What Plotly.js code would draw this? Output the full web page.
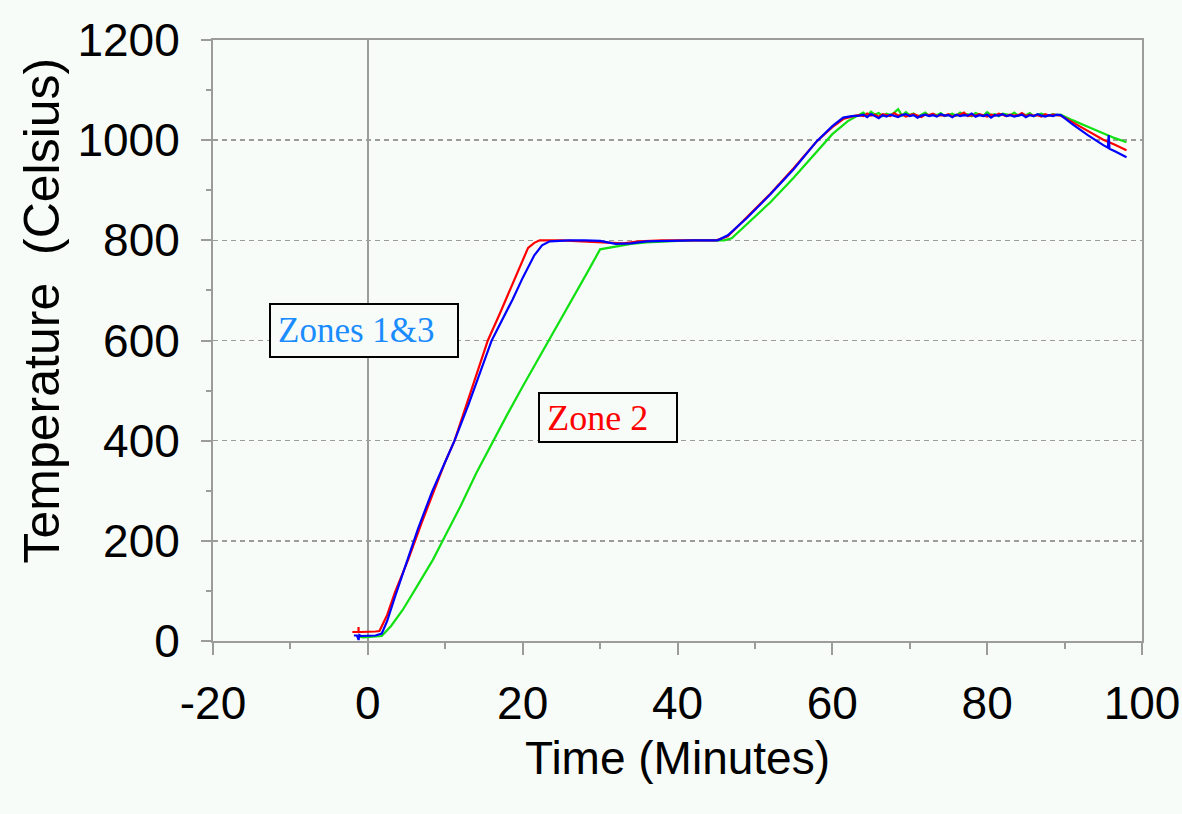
<!DOCTYPE html>
<html>
<head>
<meta charset="utf-8">
<script src="https://cdn.plot.ly/plotly-3.0.1.min.js"></script>
<style>html,body{margin:0;padding:0;background:#f7fcf9;}</style>
</head>
<body>
<div id="chart" style="width:1182px;height:814px;"></div>
<script>
// ---- Data (time in minutes, temperature in Celsius) ----
const greenTime = [-1.4,-1.2,-0.6,0,1,1.8,3,4.5,6,8.4,10,12,14,16.2,18,20,22,23.5,25,26.5,28.5,30,31,32,34,36,38,40,42,45,46,47,49,52,55,58,60,62,
  63.5,64,64.5,65,65.5,66,66.5,67,67.5,68,68.5,69,69.5,70,70.5,71,71.5,72,72.5,73,73.5,74,74.5,75,75.5,76,76.5,77,77.5,78,78.5,79,79.5,80,80.5,81,81.5,82,82.5,83,83.5,84,84.5,85,85.5,86,86.5,87,87.5,88,88.5,89,89.5,
  91,93,95,96.5,98];
const greenTemp = [8,9,7,8,9,10,30,62,100,162,210,270,335,400,452,508,562,602,645,685,740,782,785,788,793,796,798,799,800,800,800,804,832,876,925,978,1012,1038,
  1052,1055,1049,1057,1051,1054,1048,1053,1050,1055,1062,1049,1056,1050,1053,1047,1051,1055,1049,1052,1050,1054,1048,1051,1053,1049,1055,1050,1052,1048,1054,1051,1049,1056,1050,1052,1048,1053,1051,1050,1055,1049,1052,1050,1054,1048,1051,1053,1050,1049,1052,1050,1051,
  1040,1027,1013,1004,996];

const redTime = [-2,-1.5,-1.2,-1.2,-1.2,-0.9,0,1,1.5,2.5,3.5,5.2,7,8.5,10,11.2,13,15.5,17,18,19.5,20.7,21.5,22.2,25,28,31,33,35,38,42,45,46.5,49,52,55,58,60,61.5,63,
  63.5,64,64.5,65,65.5,66,66.5,67,67.5,68,68.5,69,69.5,70,70.5,71,71.5,72,72.5,73,73.5,74,74.5,75,75.5,76,76.5,77,77.5,78,78.5,79,79.5,80,80.5,81,81.5,82,82.5,83,83.5,84,84.5,85,85.5,86,86.5,87,87.5,88,88.5,89,89.5,
  91,93,95,96.5,98];
const redTemp = [18,18,18,28,18,18,18,19,20,52,97,162,238,300,358,400,482,600,652,688,745,785,795,800,800,798,795,794,798,800,800,800,808,846,893,944,998,1026,1043,1049,
  1050,1048,1053,1049,1051,1047,1052,1050,1048,1054,1049,1051,1047,1050,1052,1049,1046,1051,1050,1053,1048,1050,1049,1052,1047,1050,1051,1055,1048,1050,1049,1052,1050,1047,1051,1049,1053,1050,1048,1051,1049,1050,1054,1048,1051,1049,1050,1047,1052,1049,1051,1050,1049,
  1036,1018,1001,991,980];

const blueTime = [-1.8,-1.4,-1.2,-1.1,-0.9,0,1,1.8,2.5,3.5,5,6.5,8.3,10,11.2,13,16,18.7,20,21.5,22.5,23.5,26,28,30,32,34,36,38,40,42,44,45.2,46.5,49,52,55,58,60,61.4,62.5,
  63.5,64,64.5,65,65.5,66,66.5,67,67.5,68,68.5,69,69.5,70,70.5,71,71.5,72,72.5,73,73.5,74,74.5,75,75.5,76,76.5,77,77.5,78,78.5,79,79.5,80,80.5,81,81.5,82,82.5,83,83.5,84,84.5,85,85.5,86,86.5,87,87.5,88,88.5,89,89.5,
  91,93,95,95.6,95.7,95.8,96.5,98];
const blueTemp = [11,11,2,12,10,10,11,15,40,88,158,225,298,360,400,472,600,682,725,770,790,798,800,800,799,793,794,798,799,800,800,800,800,810,845,892,942,998,1028,1045,1048,
  1049,1051,1046,1052,1048,1044,1050,1047,1051,1049,1046,1050,1052,1048,1050,1045,1049,1051,1048,1050,1047,1052,1049,1050,1046,1051,1048,1050,1049,1053,1047,1050,1048,1051,1045,1050,1049,1052,1048,1050,1047,1049,1051,1046,1050,1048,1052,1049,1047,1050,1048,1051,1050,
  1032,1010,990,985,1010,983,978,966];

const xTickVals = [-20,0,20,40,60,80,100];
const yTickVals = [0,200,400,600,800,1000,1200];

const bg = '#f7fcf9';
const axisGray = '#9c9c9c';
const tickFont = {family: '"Liberation Sans", Arial, sans-serif', size: 46, color: '#000'};
const yTitleFont = {family: '"Liberation Sans", Arial, sans-serif', size: 50, color: '#000'};
const serif = '"Liberation Serif", "Times New Roman", serif';

const traces = [
  {x: greenTime, y: greenTemp, mode: 'lines', line: {color: '#11e011', width: 2.2}, name: 'Zone 2', showlegend: false, hoverinfo: 'x+y'},
  {x: redTime, y: redTemp, mode: 'lines', line: {color: '#ff0000', width: 2.2}, name: 'Red', showlegend: false, hoverinfo: 'x+y'},
  {x: blueTime, y: blueTemp, mode: 'lines', line: {color: '#0000ff', width: 2.2}, name: 'Blue', showlegend: false, hoverinfo: 'x+y'}
];

const layout = {
  width: 1182, height: 814,
  paper_bgcolor: bg, plot_bgcolor: bg,
  margin: {l: 213, r: 40, t: 40, b: 173},
  showlegend: false,
  xaxis: {
    range: [-20, 100], tickvals: xTickVals, ticktext: xTickVals.map(String),
    ticks: 'outside', ticklen: 12, tickwidth: 2, tickcolor: axisGray,
    minor: {dtick: 10, tick0: -10, ticks: 'outside', ticklen: 6, tickwidth: 2, tickcolor: axisGray, showgrid: false},
    showline: true, linecolor: axisGray, linewidth: 2, mirror: true,
    showgrid: false, zeroline: true, zerolinecolor: axisGray, zerolinewidth: 1.5,
    tickfont: tickFont, ticklabelstandoff: 9,
    title: {text: 'Time (Minutes)', font: tickFont, standoff: 14}
  },
  yaxis: {
    range: [0, 1200], tickvals: yTickVals, ticktext: yTickVals.map(String),
    ticks: 'outside', ticklen: 10, tickwidth: 2, tickcolor: axisGray,
    minor: {dtick: 200, tick0: 100, ticks: 'outside', ticklen: 5, tickwidth: 2, tickcolor: axisGray, showgrid: false},
    showline: true, linecolor: axisGray, linewidth: 2, mirror: true,
    showgrid: true, gridcolor: axisGray, gridwidth: 1.5, griddash: '5px,4px',
    zeroline: false,
    tickfont: tickFont, ticklabelstandoff: 12
  },
  xaxis2: {
    overlaying: 'x', anchor: 'y2', range: [-20, 100], tickvals: xTickVals,
    ticks: 'inside', ticklen: 9, tickwidth: 2, tickcolor: axisGray,
    minor: {dtick: 10, tick0: -10, ticks: 'inside', ticklen: 6, tickwidth: 2, tickcolor: axisGray, showgrid: false},
    showticklabels: false, showgrid: false, zeroline: false, showline: false
  },
  yaxis2: {
    overlaying: 'y', anchor: 'x2', range: [0, 1200], tickvals: yTickVals,
    ticks: 'inside', ticklen: 3, tickwidth: 2, tickcolor: axisGray,
    minor: {dtick: 200, tick0: 100, ticks: 'inside', ticklen: 5, tickwidth: 2, tickcolor: axisGray, showgrid: false},
    showticklabels: false, showgrid: false, zeroline: false, showline: false
  },
  annotations: [
    {x: 0, y: 0.55, xref: 'paper', yref: 'paper', xshift: -171, text: 'Temperature \u00a0(Celsius)',
     textangle: -90, showarrow: false, font: yTitleFont, xanchor: 'center', yanchor: 'middle'},
    {x: -0.5, y: 619, xref: 'x', yref: 'y', text: '\u2009Zones 1&amp;3', showarrow: false,
     font: {family: serif, size: 35, color: '#1a8cff'},
     bgcolor: bg, bordercolor: '#000', borderwidth: 2, borderpad: 0,
     width: 186, height: 51, align: 'left', valign: 'middle'},
    {x: 31, y: 447, xref: 'x', yref: 'y', text: '\u2009Zone 2', showarrow: false,
     font: {family: serif, size: 36, color: '#ff0000'},
     bgcolor: bg, bordercolor: '#000', borderwidth: 2, borderpad: 0,
     width: 136, height: 47, align: 'left', valign: 'middle'}
  ]
};

Plotly.newPlot('chart', traces, layout, {displayModeBar: false, staticPlot: true});
</script>
</body>
</html>
